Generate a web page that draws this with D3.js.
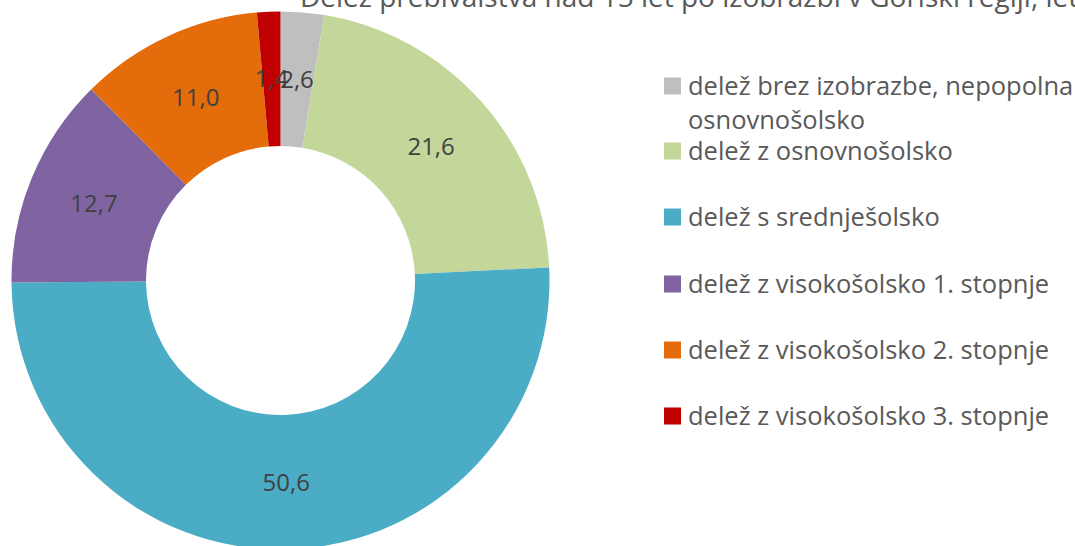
<!DOCTYPE html>
<html>
<head>
<meta charset="utf-8">
<script src="https://cdn.jsdelivr.net/npm/d3@7"></script>
<style>
    body { margin: 0; background: #fff; overflow: hidden; }
    svg { display: block; font-family: 'Open Sans', 'Noto Sans', sans-serif; }
</style>
</head>
<body>
<svg id="chart" width="1075" height="546"></svg>
<script>
const title = 'Delež prebivalstva nad 15 let po izobrazbi v Goriški regiji, leto'
const categories = [
    ['delež brez izobrazbe, nepopolna', 'osnovnošolsko'],
    ['delež z osnovnošolsko'],
    ['delež s srednješolsko'],
    ['delež z visokošolsko 1. stopnje'],
    ['delež z visokošolsko 2. stopnje'],
    ['delež z visokošolsko 3. stopnje']
]
const values = [2.6, 21.6, 50.6, 12.7, 11.0, 1.4]
const colors = ['#BFBFBF', '#C4D79B', '#4BACC6', '#8064A2', '#E46C0A', '#C00000']

const svg = d3.select('#chart')
const cx = 280.5, cy = 280.5
const outer = 269, inner = 134.5

svg.append('text')
    .attr('x', 300)
    .attr('y', 7)
    .style('font-size', '28px')
    .style('fill', '#595959')
    .text(title)

const pie = d3.pie().sort(null).value(d => d)
const arc = d3.arc().innerRadius(inner).outerRadius(outer)
const mid = (inner + outer) / 2
const arcs = pie(values)

let g = svg.append('g').attr('transform', `translate(${cx},${cy})`)

g.selectAll('path')
    .data(arcs)
    .enter().append('path')
    .attr('d', arc)
    .style('fill', (d, i) => colors[i])
    .style('stroke', 'none')

const fmt = v => d3.format('.1f')(v).replace('.', ',')

g.selectAll('text.lbl')
    .data(arcs)
    .enter().append('text')
    .attr('class', 'lbl')
    .attr('x', d => mid * Math.sin((d.startAngle + d.endAngle) / 2))
    .attr('y', d => -mid * Math.cos((d.startAngle + d.endAngle) / 2))
    .attr('dy', '0.35em')
    .attr('text-anchor', 'middle')
    .style('font-size', '24px')
    .style('fill', '#404040')
    .text(d => fmt(d.data))

// legend
const legendY = [86, 151, 217, 284, 350, 416]
let legend = svg.append('g')
categories.forEach((lines, i) => {
    legend.append('rect')
        .attr('x', 664)
        .attr('y', legendY[i] - 8.5)
        .attr('width', 17)
        .attr('height', 17)
        .style('fill', colors[i])
    lines.forEach((t, j) => {
        legend.append('text')
            .attr('x', 688)
            .attr('y', legendY[i] + 9 + j * 34)
            .style('font-size', '25.5px')
            .style('fill', '#595959')
            .text(t)
    })
})
</script>
</body>
</html>
